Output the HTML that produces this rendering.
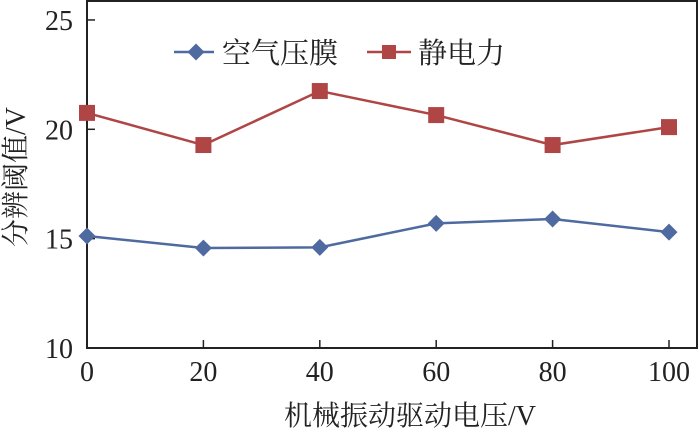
<!DOCTYPE html>
<html><head><meta charset="utf-8"><style>
body{margin:0;background:#fff;}
svg text{font-family:"Liberation Serif","Noto Serif CJK SC",serif;fill:#222;}
</style></head><body>
<svg id="chart" width="700" height="431" xmlns="http://www.w3.org/2000/svg">
<rect x="87" y="1" width="610" height="347" fill="none" stroke="#222" stroke-width="2"/>
<g id="axes"></g>
<g id="series"></g>
<text x="410" y="425" font-size="28" text-anchor="middle">机械振动驱动电压/V</text>
<text transform="translate(25,177) rotate(-90)" font-size="28" text-anchor="middle">分辨阈值/V</text>
<g>
<line x1="174" y1="52" x2="214" y2="52" stroke="#4f6aa0" stroke-width="2.5"/>
<rect x="190" y="46" width="12" height="12" transform="rotate(45 196 52)" fill="#4f6aa0"/>
<text x="222" y="63" font-size="29">空气压膜</text>
<line x1="367" y1="52" x2="411" y2="52" stroke="#b04545" stroke-width="2.5"/>
<rect x="382" y="45" width="14" height="14" fill="#b04545"/>
<text x="418" y="63" font-size="29">静电力</text>
</g>
</svg>
<script>
const categories=[0,20,40,60,80,100];
const airValues=[15.12,14.57,14.6,15.7,15.9,15.3];
const esValues=[20.75,19.28,21.75,20.65,19.28,20.1];
const yTicks=[10,15,20,25];
const NS="http://www.w3.org/2000/svg";
function xs(v){return 87+v*5.82;}
function ys(v){return 348-(v-10)*21.87;}
function mk(t,a,p){const e=document.createElementNS(NS,t);for(const k in a)e.setAttribute(k,a[k]);p.appendChild(e);return e;}
const ax=document.getElementById('axes'),se=document.getElementById('series');
categories.forEach(c=>{
  const x=xs(c);
  const tk=mk('line',{x1:x,y1:348,x2:x,y2:340,stroke:'#222','stroke-width':1.5},ax);
  
  
  const t=mk('text',{x:x,y:381,'font-size':28,'text-anchor':'middle'},ax);t.textContent=c;
  
  
});
yTicks.forEach(v=>{
  const y=ys(v);
  const tk=mk('line',{x1:87,y1:y,x2:95,y2:y,stroke:'#222','stroke-width':1.5},ax);
  
  
  const t=mk('text',{x:73,y:y+10,'font-size':28,'text-anchor':'end'},ax);t.textContent=v;
  
  
});
function drawLine(vals,color,name,shape){
  const pts=vals.map((v,i)=>xs(categories[i])+','+ys(v)).join(' ');
  const pl=mk('polyline',{points:pts,fill:'none',stroke:color,'stroke-width':2.5},se);
  
  
  vals.forEach((v,i)=>{
    const x=xs(categories[i]),y=ys(v);let m;
    if(shape==='d')m=mk('rect',{x:x-6,y:y-6,width:12,height:12,transform:`rotate(45 ${x} ${y})`,fill:color},se);
    else m=mk('rect',{x:x-8,y:y-8,width:16,height:16,fill:color},se);
    
    
  });
}
drawLine(esValues,'#b04545','electrostatic','s');
drawLine(airValues,'#4f6aa0','air','d');
</script>
</body></html>
